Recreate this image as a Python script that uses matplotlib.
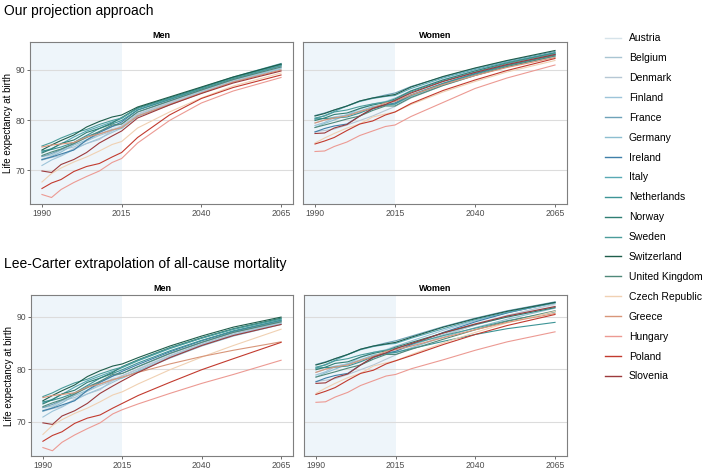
import numpy as np
import matplotlib.pyplot as plt
from matplotlib.lines import Line2D

plt.rcParams['font.family'] = ['Liberation Sans', 'DejaVu Sans']

# ============================================================
# DATA
# ============================================================
countries = ["Austria", "Belgium", "Denmark", "Finland", "France", "Germany",
             "Ireland", "Italy", "Netherlands", "Norway", "Sweden", "Switzerland",
             "United Kingdom", "Czech Republic", "Greece", "Hungary", "Poland",
             "Slovenia"]

colors = ["#D6E3EA", "#A9C5D2", "#B6C7D4", "#9DC4D9", "#6EA2B8", "#8DBED0",
          "#3F7FA8", "#59A9B4", "#3D9496", "#2F7E73", "#4B9C9A", "#1E5D4B",
          "#50897A", "#F0D1B3", "#D8967A", "#EC9A93", "#C23A2E", "#9C3A3C"]

hist_years = [1990, 1993, 1996, 2000, 2004, 2008, 2012, 2015]
proj_years = [2020, 2030, 2040, 2050, 2065]

# observed life expectancy, same in both approaches
men_hist = [
    [72.3, 72.9, 73.9, 75.2, 76.4, 77.6, 78.3, 78.8],
    [72.7, 73.0, 74.0, 74.6, 75.8, 76.9, 77.8, 78.7],
    [72.0, 72.5, 72.9, 74.3, 75.3, 76.1, 77.9, 78.8],
    [70.9, 72.0, 72.8, 74.1, 75.3, 76.3, 77.5, 78.4],
    [72.7, 73.3, 74.1, 75.2, 76.7, 77.6, 78.7, 79.2],
    [72.0, 72.7, 73.6, 75.0, 76.0, 77.2, 78.1, 78.3],
    [72.1, 72.6, 73.2, 74.0, 76.0, 77.5, 78.7, 79.6],
    [73.6, 74.3, 75.2, 76.6, 77.8, 78.7, 79.6, 80.3],
    [73.8, 74.1, 74.6, 75.5, 76.9, 78.3, 79.2, 79.9],
    [73.4, 74.2, 75.3, 76.0, 77.5, 78.3, 79.4, 80.5],
    [74.8, 75.5, 76.4, 77.4, 78.1, 79.1, 79.9, 80.4],
    [74.0, 75.0, 75.9, 77.0, 78.6, 79.7, 80.6, 81.0],
    [72.9, 73.6, 74.2, 75.3, 76.5, 77.7, 79.0, 79.2],
    [67.6, 69.3, 70.4, 71.6, 72.6, 73.8, 75.1, 75.7],
    [74.6, 75.0, 75.2, 75.5, 76.6, 77.2, 78.0, 78.5],
    [65.1, 64.5, 66.1, 67.5, 68.7, 69.8, 71.5, 72.3],
    [66.3, 67.4, 68.1, 69.7, 70.7, 71.3, 72.6, 73.5],
    [69.8, 69.5, 71.1, 72.1, 73.5, 75.4, 76.8, 77.8],
]

women_hist = [
    [78.9, 79.5, 80.2, 81.1, 82.1, 83.2, 83.6, 83.7],
    [79.4, 80.0, 80.6, 81.0, 81.5, 82.6, 83.1, 83.4],
    [77.7, 77.9, 78.2, 79.0, 79.9, 80.8, 81.9, 82.7],
    [78.9, 79.5, 80.5, 81.0, 82.3, 83.2, 83.7, 84.4],
    [80.9, 81.4, 82.0, 82.8, 83.8, 84.4, 85.0, 85.4],
    [78.5, 79.3, 80.0, 81.0, 81.8, 82.7, 83.0, 83.1],
    [77.6, 78.3, 78.8, 79.2, 80.8, 82.2, 83.0, 83.4],
    [80.2, 80.9, 81.7, 82.8, 83.7, 84.3, 84.7, 84.9],
    [80.2, 80.3, 80.4, 80.6, 81.4, 82.4, 83.0, 83.2],
    [79.9, 80.4, 81.1, 81.4, 82.3, 83.0, 83.5, 84.2],
    [80.4, 80.8, 81.6, 82.0, 82.7, 83.2, 83.6, 84.0],
    [80.8, 81.3, 82.0, 82.8, 83.8, 84.4, 84.8, 85.1],
    [78.5, 79.0, 79.5, 80.2, 80.8, 81.9, 82.8, 82.8],
    [75.4, 76.4, 77.3, 78.4, 79.2, 80.6, 81.2, 81.6],
    [79.4, 80.0, 80.4, 80.8, 81.7, 82.4, 83.4, 83.7],
    [73.7, 73.8, 74.7, 75.6, 76.9, 77.8, 78.7, 79.0],
    [75.2, 75.8, 76.5, 77.9, 79.2, 79.8, 81.0, 81.6],
    [77.3, 77.4, 78.4, 79.1, 80.8, 82.3, 83.1, 83.9],
]

# our projection approach
men_ours = [
    [81.3, 83.6, 85.9, 88.0, 90.7],
    [81.1, 83.4, 85.7, 87.8, 90.5],
    [81.2, 83.5, 85.8, 87.9, 90.6],
    [80.9, 83.2, 85.6, 87.7, 90.4],
    [81.6, 83.8, 86.0, 88.1, 90.8],
    [80.7, 83.0, 85.4, 87.6, 90.2],
    [82.0, 84.1, 86.3, 88.4, 91.1],
    [82.4, 84.4, 86.5, 88.6, 91.3],
    [82.0, 84.1, 86.2, 88.3, 90.9],
    [82.4, 84.4, 86.4, 88.5, 91.1],
    [82.3, 84.3, 86.3, 88.4, 91.0],
    [82.6, 84.6, 86.6, 88.6, 91.2],
    [81.6, 83.8, 86.0, 88.1, 90.6],
    [78.4, 81.6, 84.4, 86.8, 89.4],
    [80.8, 83.1, 85.4, 87.6, 90.0],
    [75.4, 79.9, 83.4, 85.8, 88.5],
    [76.5, 81.0, 84.3, 86.5, 89.0],
    [80.4, 83.0, 85.3, 87.4, 89.8],
]

women_ours = [
    [85.2, 87.5, 89.4, 91.0, 93.0],
    [85.0, 87.3, 89.2, 90.9, 92.9],
    [84.4, 86.9, 88.9, 90.6, 92.7],
    [85.9, 88.1, 89.9, 91.5, 93.4],
    [86.7, 88.6, 90.3, 91.8, 93.7],
    [84.7, 87.1, 89.0, 90.7, 92.8],
    [85.0, 87.3, 89.3, 91.0, 93.1],
    [86.3, 88.4, 90.1, 91.6, 93.5],
    [84.9, 87.3, 89.2, 90.9, 93.0],
    [85.8, 88.0, 89.8, 91.4, 93.4],
    [85.6, 87.8, 89.6, 91.3, 93.3],
    [86.6, 88.7, 90.4, 91.9, 93.9],
    [84.5, 86.9, 88.9, 90.7, 92.8],
    [83.1, 85.6, 87.7, 89.6, 91.9],
    [85.0, 87.1, 88.9, 90.5, 92.5],
    [80.7, 83.5, 86.3, 88.4, 91.0],
    [83.3, 85.9, 88.0, 89.9, 92.3],
    [85.4, 87.7, 89.5, 91.1, 93.1],
]

# Lee-Carter extrapolation
men_lc = [
    [80.2, 82.8, 85.0, 86.9, 89.1],
    [80.0, 82.6, 84.8, 86.7, 88.9],
    [80.0, 82.5, 84.7, 86.6, 88.8],
    [79.7, 82.3, 84.6, 86.5, 88.7],
    [80.5, 83.0, 85.1, 87.0, 89.1],
    [79.6, 82.1, 84.4, 86.3, 88.5],
    [80.9, 83.3, 85.4, 87.2, 89.3],
    [81.6, 83.9, 85.9, 87.6, 89.6],
    [81.2, 83.5, 85.5, 87.3, 89.3],
    [81.8, 84.1, 86.0, 87.7, 89.7],
    [81.7, 84.0, 85.9, 87.6, 89.5],
    [82.2, 84.4, 86.3, 88.0, 89.9],
    [80.5, 83.0, 85.1, 87.0, 89.0],
    [77.2, 79.9, 82.3, 84.5, 87.6],
    [79.4, 81.0, 82.4, 83.6, 85.2],
    [73.4, 75.4, 77.3, 79.0, 81.7],
    [75.0, 77.5, 79.9, 82.0, 85.1],
    [79.4, 82.2, 84.5, 86.4, 88.5],
]

women_lc = [
    [84.8, 86.9, 88.7, 90.3, 92.2],
    [84.5, 86.6, 88.4, 90.0, 91.9],
    [84.0, 86.4, 88.4, 90.2, 92.4],
    [85.4, 87.4, 89.2, 90.7, 92.6],
    [86.3, 88.1, 89.7, 91.1, 92.8],
    [84.1, 86.1, 87.9, 89.5, 91.6],
    [84.7, 87.0, 89.0, 90.7, 92.7],
    [85.9, 87.7, 89.4, 90.8, 92.6],
    [83.9, 85.3, 86.6, 87.7, 88.9],
    [85.1, 86.9, 88.5, 89.9, 91.7],
    [84.8, 86.4, 87.8, 89.2, 90.9],
    [86.1, 88.0, 89.6, 91.0, 92.7],
    [83.8, 85.7, 87.5, 89.1, 91.1],
    [82.8, 85.0, 87.0, 88.8, 91.0],
    [84.4, 86.0, 87.5, 88.9, 90.6],
    [80.1, 81.8, 83.6, 85.2, 87.1],
    [82.6, 84.7, 86.6, 88.3, 90.4],
    [84.9, 86.9, 88.6, 90.1, 91.9],
]

x_ticks = [1990, 2015, 2040, 2065]
y_ticks = [70, 80, 90]


# ============================================================
# PLOT
# ============================================================
def draw_panel(ax, hist, proj, title, ylim, show_y):
    ax.axvspan(1980, 2015, color="#EEF5FA", lw=0, zorder=0)
    for v in y_ticks:
        ax.axhline(v, color="#DCDCDC", lw=0.8, zorder=1)
    years = hist_years + proj_years
    for i in range(len(countries)):
        ax.plot(years, hist[i] + proj[i], color=colors[i], lw=0.8, zorder=2)
    ax.set_xlim(1986.25, 2068.75)
    ax.set_ylim(*ylim)
    ax.set_xticks(x_ticks)
    ax.set_yticks(y_ticks)
    ax.tick_params(length=2, width=0.6, color="#555555", labelsize=6.2,
                   labelcolor="#4D4D4D", pad=1.5)
    for s in ax.spines.values():
        s.set_color("#7F7F7F")
        s.set_linewidth(0.8)
    if show_y:
        ax.set_ylabel("Life expectancy at birth", fontsize=7, labelpad=2)
    else:
        ax.tick_params(axis="y", left=False, labelleft=False)
    ax.set_title(title, fontsize=6.5, fontweight="bold", pad=3)


fig = plt.figure(figsize=(7.08, 4.72), dpi=100)
W, H = 708, 472

def add_ax(x0, x1, y0, y1):
    return fig.add_axes([x0 / W, 1 - y1 / H, (x1 - x0) / W, (y1 - y0) / H])

ax1 = add_ax(30, 293, 42, 204)
ax2 = add_ax(303, 567, 42, 204)
ax3 = add_ax(31, 293, 295, 456)
ax4 = add_ax(304, 567, 295, 456)

draw_panel(ax1, men_hist, men_ours, "Men", (63.2, 95.6), True)
draw_panel(ax2, women_hist, women_ours, "Women", (63.2, 95.6), False)
draw_panel(ax3, men_hist, men_lc, "Men", (63.5, 94.1), True)
draw_panel(ax4, women_hist, women_lc, "Women", (63.5, 94.1), False)

fig.text(4 / W, 1 - 15 / H, "Our projection approach", fontsize=10, va="baseline")
fig.text(4 / W, 1 - 268 / H, "Lee-Carter extrapolation of all-cause mortality",
         fontsize=10, va="baseline")

handles = [Line2D([], [], color=c, lw=1.0) for c in colors]
fig.legend(handles, countries, loc="upper left", bbox_to_anchor=(600 / W, 1 - 28 / H),
           frameon=False, fontsize=7.5, handlelength=1.5, handletextpad=0.75,
           labelspacing=0.95, borderpad=0)

plt.savefig("out.png", dpi=100)
